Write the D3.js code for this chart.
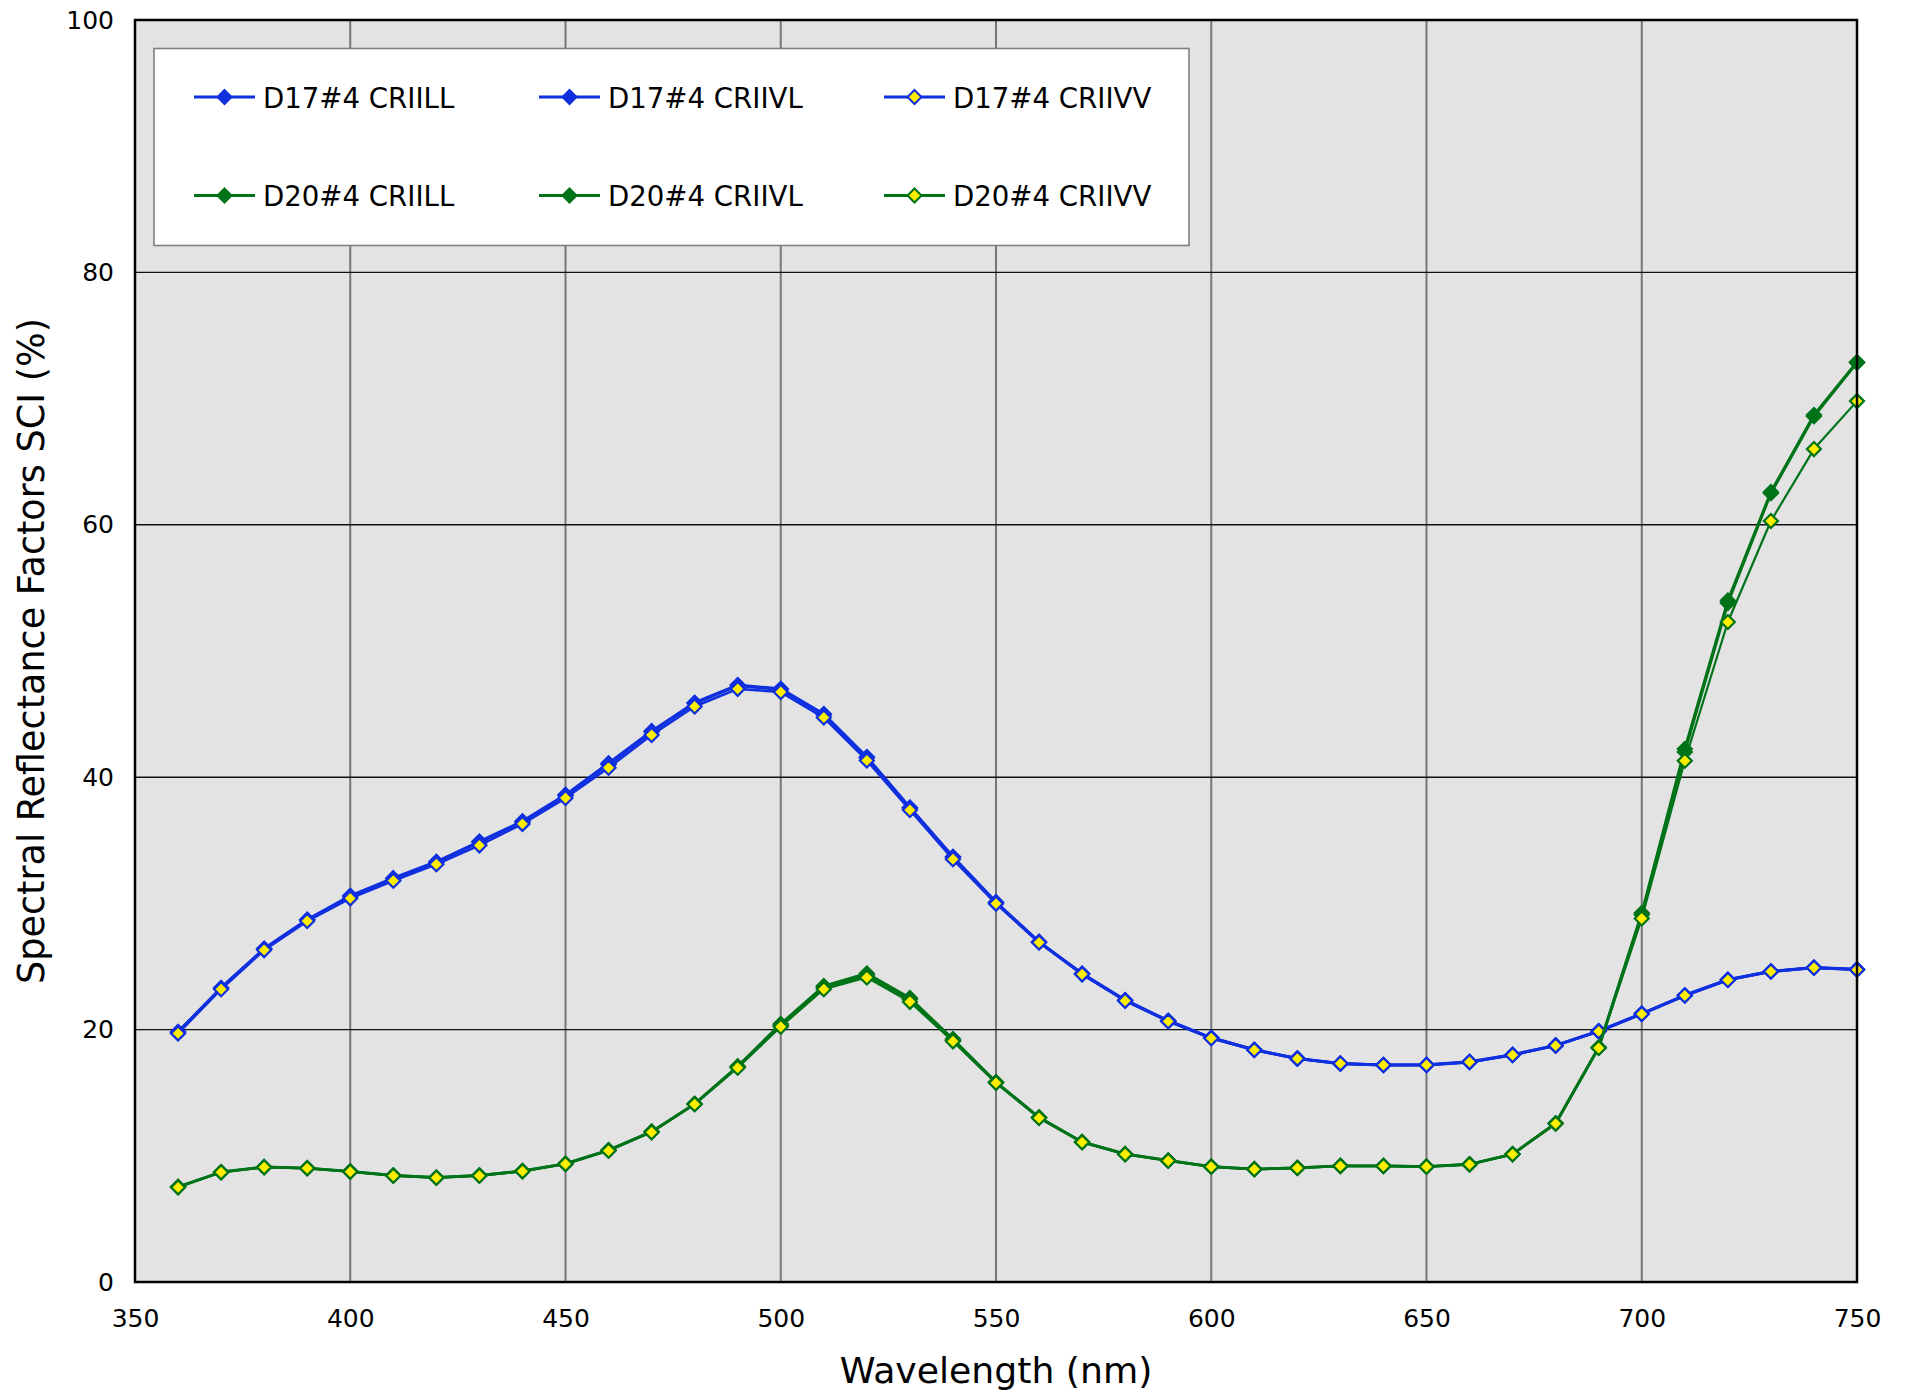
<!DOCTYPE html>
<html>
<head>
<meta charset="utf-8">
<script src="https://cdn.jsdelivr.net/npm/d3@7/dist/d3.min.js"></script>
<style>
  html, body { margin: 0; padding: 0; background: #ffffff; }
  svg { display: block; font-family: "DejaVu Sans", Verdana, sans-serif; }
</style>
</head>
<body>
<svg id="chart" width="1906" height="1393"></svg>
<script>
// ---------------- DATA ----------------
const wavelengths = [360, 370, 380, 390, 400, 410, 420, 430, 440, 450,
                     460, 470, 480, 490, 500, 510, 520, 530, 540, 550,
                     560, 570, 580, 590, 600, 610, 620, 630, 640, 650,
                     660, 670, 680, 690, 700, 710, 720, 730, 740, 750];

const d17_CRIILL = [19.8, 23.3, 26.4, 28.7, 30.6, 32.0, 33.3, 34.9, 36.5, 38.6,
                    41.1, 43.65, 45.9, 47.3, 47.0, 45.0, 41.6, 37.6, 33.7, 30.1,
                    26.95, 24.45, 22.35, 20.7, 19.35, 18.4, 17.72, 17.32, 17.2, 17.22,
                    17.45, 18.0, 18.75, 19.88, 21.27, 22.72, 23.95, 24.62, 24.92, 24.78];
const d17_CRIIVL = [19.8, 23.3, 26.4, 28.7, 30.55, 31.95, 33.25, 34.85, 36.45, 38.55,
                    41.0, 43.6, 45.85, 47.25, 46.95, 44.95, 41.55, 37.55, 33.65, 30.05,
                    26.95, 24.4, 22.3, 20.7, 19.35, 18.4, 17.7, 17.3, 17.2, 17.2,
                    17.42, 18.0, 18.75, 19.87, 21.25, 22.7, 23.95, 24.6, 24.9, 24.76];
const d17_CRIIVV = [19.7, 23.2, 26.3, 28.6, 30.4, 31.8, 33.1, 34.6, 36.3, 38.35,
                    40.75, 43.35, 45.6, 47.0, 46.75, 44.73, 41.33, 37.4, 33.5, 29.98,
                    26.9, 24.38, 22.29, 20.65, 19.32, 18.38, 17.7, 17.31, 17.2, 17.2,
                    17.43, 17.99, 18.73, 19.86, 21.24, 22.7, 23.93, 24.6, 24.9, 24.75];
const d20_CRIILL = [7.55, 8.72, 9.12, 9.03, 8.77, 8.45, 8.28, 8.45, 8.8, 9.38,
                    10.45, 11.92, 14.12, 17.1, 20.45, 23.45, 24.45, 22.5, 19.25, 15.85,
                    13.05, 11.1, 10.15, 9.63, 9.15, 8.95, 9.05, 9.2, 9.2, 9.15,
                    9.33, 10.14, 12.58, 18.6, 29.24, 42.24, 54.0, 62.6, 68.7, 72.9];
const d20_CRIIVL = [7.53, 8.7, 9.1, 9.02, 8.75, 8.44, 8.27, 8.44, 8.79, 9.36,
                    10.42, 11.9, 14.1, 17.05, 20.35, 23.35, 24.3, 22.4, 19.15, 15.8,
                    13.02, 11.09, 10.13, 9.62, 9.14, 8.94, 9.04, 9.2, 9.19, 9.14,
                    9.32, 10.13, 12.56, 18.57, 29.1, 42.0, 53.8, 62.5, 68.6, 72.85];
const d20_CRIIVV = [7.5, 8.69, 9.09, 9.01, 8.74, 8.42, 8.26, 8.42, 8.77, 9.35,
                    10.4, 11.86, 14.08, 16.98, 20.23, 23.2, 24.13, 22.2, 19.07, 15.78,
                    13.0, 11.08, 10.12, 9.61, 9.13, 8.93, 9.03, 9.19, 9.19, 9.14,
                    9.32, 10.12, 12.55, 18.54, 28.8, 41.3, 52.3, 60.3, 66.0, 69.8];

const seriesNames = ["D17#4 CRIILL", "D17#4 CRIIVL", "D17#4 CRIIVV",
                     "D20#4 CRIILL", "D20#4 CRIIVL", "D20#4 CRIIVV"];
const seriesValues = [d17_CRIILL, d17_CRIIVL, d17_CRIIVV, d20_CRIILL, d20_CRIIVL, d20_CRIIVV];

const xTicks = [350, 400, 450, 500, 550, 600, 650, 700, 750];
const yTicks = [0, 20, 40, 60, 80, 100];
const xTitle = "Wavelength (nm)";
const yTitle = "Spectral Reflectance Factors SCI (%)";

// ---------------- STYLE ----------------
const BLUE = "#1030e0", GREEN = "#007318", YELLOW = "#ffee00";
const styles = [
  { line: BLUE,  fill: BLUE,   stroke: BLUE,  lw: 3.0 },
  { line: BLUE,  fill: BLUE,   stroke: BLUE,  lw: 3.0 },
  { line: BLUE,  fill: YELLOW, stroke: BLUE,  lw: 2.6 },
  { line: GREEN, fill: GREEN,  stroke: GREEN, lw: 2.8 },
  { line: GREEN, fill: GREEN,  stroke: GREEN, lw: 2.8 },
  { line: GREEN, fill: YELLOW, stroke: GREEN, lw: 2.2 }
];

const svg = d3.select("#chart");
const L = 135, R = 1857, T = 20, B = 1282;

const x = d3.scaleLinear().domain([350, 750]).range([L, R]);
const y = d3.scaleLinear().domain([0, 100]).range([B, T]);

// plot background
svg.append("rect").attr("x", L).attr("y", T).attr("width", R - L).attr("height", B - T)
  .attr("fill", "#e3e3e3");

// vertical gridlines
svg.append("g").selectAll("line").data(xTicks.slice(1, -1)).join("line")
  .attr("x1", d => x(d)).attr("x2", d => x(d)).attr("y1", T).attr("y2", B)
  .attr("stroke", "#777777").attr("stroke-width", 2);
// horizontal gridlines
svg.append("g").selectAll("line").data(yTicks.slice(1, -1)).join("line")
  .attr("x1", L).attr("x2", R).attr("y1", d => y(d)).attr("y2", d => y(d))
  .attr("stroke", "#111111").attr("stroke-width", 1.4);

// axes (labels only)
const xAxis = svg.append("g").attr("transform", `translate(0,${B})`)
  .call(d3.axisBottom(x).tickValues(xTicks).tickSize(0).tickPadding(27).tickFormat(d3.format("d")));
const yAxis = svg.append("g").attr("transform", `translate(${L},0)`)
  .call(d3.axisLeft(y).tickValues(yTicks).tickSize(0).tickPadding(21).tickFormat(d3.format("d")));
[xAxis, yAxis].forEach(a => {
  a.select(".domain").remove();
  a.selectAll("text").attr("font-size", 25).attr("fill", "#000")
    .attr("font-family", "'DejaVu Sans', Verdana, sans-serif");
});

// diamond symbol path
function diamond(cx, cy, r) {
  return `M${cx},${cy - r}L${cx + r},${cy}L${cx},${cy + r}L${cx - r},${cy}Z`;
}

// series
const line = d3.line().x((d, i) => x(wavelengths[i])).y(d => y(d));
const plot = svg.append("g");
seriesValues.forEach((vals, k) => {
  const st = styles[k];
  const g = plot.append("g");
  g.append("path").datum(vals).attr("d", line)
    .attr("fill", "none").attr("stroke", st.line).attr("stroke-width", st.lw)
    .attr("stroke-linejoin", "round");
  g.selectAll("path.m").data(vals).join("path").attr("class", "m")
    .attr("d", (d, i) => diamond(x(wavelengths[i]), y(d), 7))
    .attr("fill", st.fill).attr("stroke", st.stroke).attr("stroke-width", 2.2);
});

// plot border
svg.append("rect").attr("x", L).attr("y", T).attr("width", R - L).attr("height", B - T)
  .attr("fill", "none").attr("stroke", "#000").attr("stroke-width", 2.5);

// legend
const leg = svg.append("g");
leg.append("rect").attr("x", 154).attr("y", 48.5).attr("width", 1035).attr("height", 197)
  .attr("fill", "#ffffff").attr("stroke", "#808080").attr("stroke-width", 1.6);
const colX = [194, 539, 884];
const rowY = [97, 195.5];
seriesNames.forEach((name, k) => {
  const st = styles[k];
  const cx = colX[k % 3], cy = rowY[Math.floor(k / 3)];
  const g = leg.append("g");
  g.append("line").attr("x1", cx).attr("x2", cx + 61).attr("y1", cy).attr("y2", cy)
    .attr("stroke", st.line).attr("stroke-width", 3);
  g.append("path").attr("d", diamond(cx + 30.5, cy, 7))
    .attr("fill", st.fill).attr("stroke", st.stroke).attr("stroke-width", 2);
  g.append("text").attr("x", cx + 69).attr("y", cy + 10.5)
    .attr("font-size", 27.6).attr("fill", "#000").text(name);
});

// axis titles
svg.append("text").attr("x", (L + R) / 2).attr("y", 1383).attr("text-anchor", "middle")
  .attr("font-size", 36.2).attr("fill", "#000").text(xTitle);
svg.append("text").attr("transform", `translate(44,${(T + B) / 2}) rotate(-90)`)
  .attr("text-anchor", "middle").attr("font-size", 36.6).attr("fill", "#000").text(yTitle);
</script>
</body>
</html>
